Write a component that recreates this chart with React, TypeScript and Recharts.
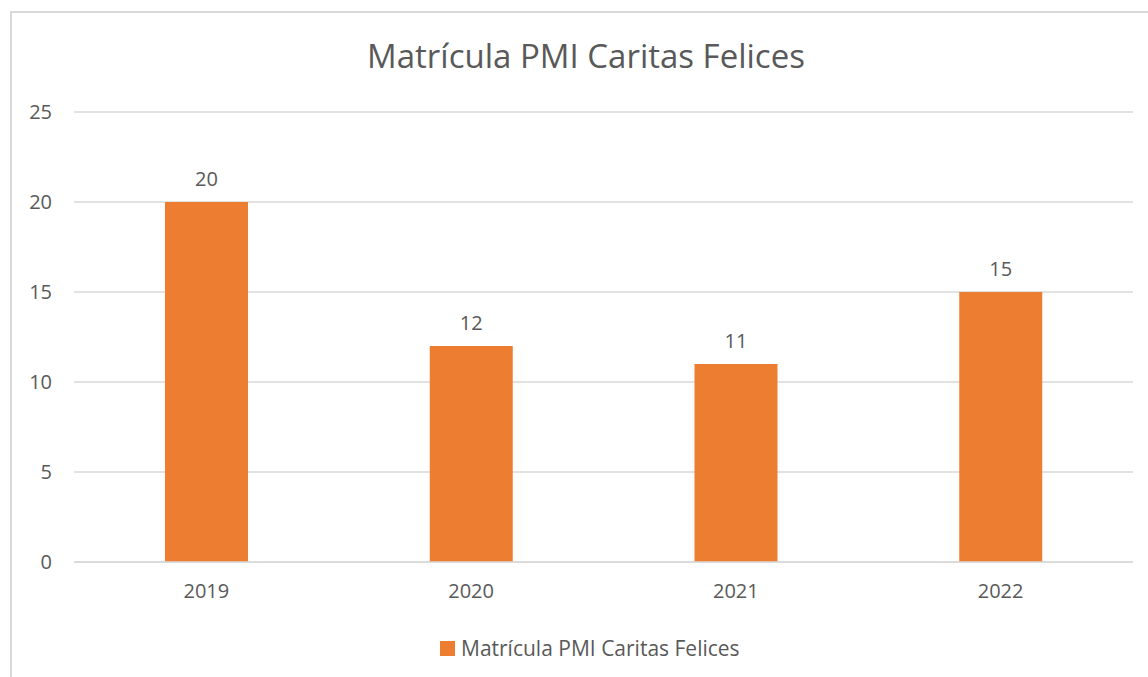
import { BarChart, Bar, XAxis, YAxis, CartesianGrid, LabelList } from 'recharts';

const years = ['2019', '2020', '2021', '2022'];
const enrollment = [20, 12, 11, 15];
const yTicks = [0, 5, 10, 15, 20, 25];

const seriesName = 'Matrícula PMI Caritas Felices';
const font = '"Open Sans", "Noto Sans", sans-serif';
const textColor = '#595959';
const barColor = '#ED7D31';

const data = years.map((y, i) => ({ year: y, value: enrollment[i] }));

export default function App() {
  return (
    <div style={{ position: 'absolute', left: 0, top: 0, width: 1148, height: 677, overflow: 'hidden', background: '#fff' }}>
      <div style={{ position: 'absolute', left: 10, top: 11, width: 1200, height: 720, border: '2px solid #d9d9d9' }} />
      <div style={{ position: 'absolute', left: 0, width: 1172, top: 34, textAlign: 'center', fontFamily: font, fontSize: 33, color: textColor, lineHeight: '44px' }}>
        {seriesName}
      </div>
      <div style={{ position: 'absolute', left: 0, top: 0 }}>
        {/* XAxis keeps its default 30px height, so bottom margin + 30 = space under the plot */}
        <BarChart width={1148} height={677} data={data} margin={{ top: 112, right: 15, bottom: 85, left: 0 }}>
          <CartesianGrid vertical={false} stroke="#d9d9d9" strokeWidth={1.5} />
          <XAxis
            dataKey="year"
            axisLine={{ stroke: '#d9d9d9', strokeWidth: 1.5 }}
            tickLine={false}
            tickSize={0}
            tickMargin={22}
            tick={{ fill: textColor, fontSize: 20, fontFamily: font }}
          />
          <YAxis
            width={74}
            domain={[0, 25]}
            ticks={yTicks}
            axisLine={false}
            tickLine={false}
            tickSize={0}
            tickMargin={22}
            tick={{ fill: textColor, fontSize: 20, fontFamily: font }}
          />
          <Bar dataKey="value" name={seriesName} fill={barColor} barSize={83} isAnimationActive={false}>
            <LabelList dataKey="value" position="top" offset={16} fill={textColor} fontSize={20} fontFamily={font} />
          </Bar>
        </BarChart>
      </div>
      <div style={{ position: 'absolute', left: 440, top: 634, display: 'flex', alignItems: 'center', fontFamily: font, fontSize: 21, color: textColor, lineHeight: '28px' }}>
        <span style={{ width: 15, height: 15, background: barColor, display: 'inline-block', marginRight: 6 }} />
        <span>{seriesName}</span>
      </div>
    </div>
  );
}
